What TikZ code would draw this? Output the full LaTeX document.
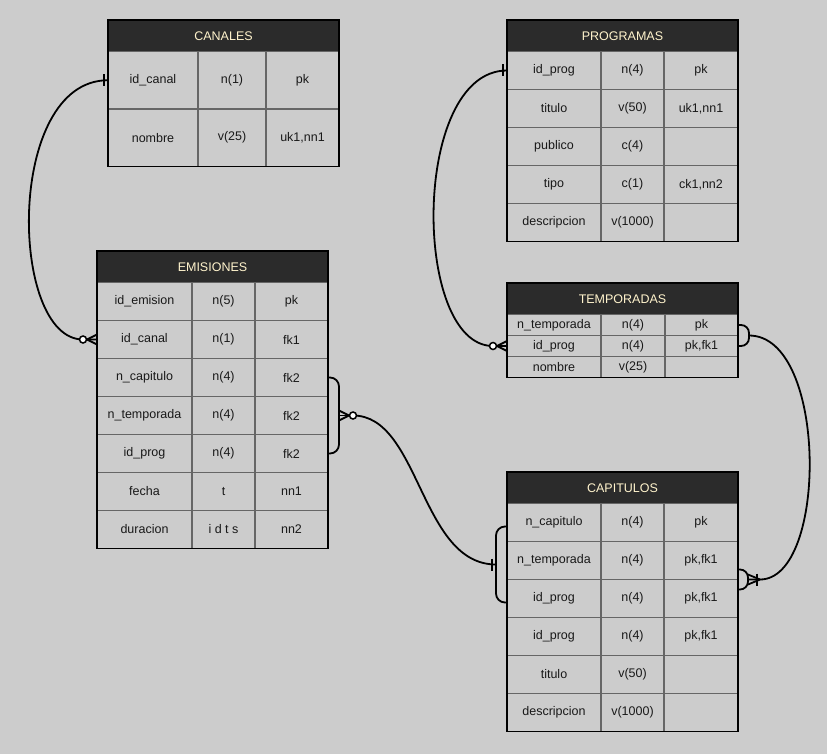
\documentclass[tikz,border=0pt]{standalone}
\usepackage{fontspec}
\setmainfont{Liberation Sans}
\usetikzlibrary{positioning}
\definecolor{bggray}{RGB}{204,204,204}
\definecolor{headgray}{RGB}{43,43,43}
\definecolor{headtext}{RGB}{255,243,204}
\tikzstyle{tabhead} = [rectangle, draw=black, line width=1.2pt, fill=headgray, text=headtext, anchor=north west, minimum width=231, minimum height=31.5, inner sep=0, outer sep=0, font=\fontsize{12.5}{15}\selectfont]
\tikzstyle{tabcell} = [rectangle, draw=black!60, line width=1.3pt, inner sep=0, outer sep=0, text=black!90, font=\fontsize{12.5}{15}\selectfont]
\tikzstyle{tabframe} = [draw=black, line width=1.3pt]
\tikzstyle{conn} = [black, line width=1.8pt]
\tikzstyle{hollow} = [black, line width=1.5pt, fill=white]

\begin{document}
\begin{tikzpicture}[x=1pt, y=-1pt]
   \useasboundingbox (0,0) rectangle (827,754);
   \fill[bggray] (0,0) rectangle (827,754);
   % Place nodes
   \node [tabhead] (canales) at (108,20) {CANALES};
   \foreach \n/\t/\k [count=\i] in {id\_canal/n(1)/pk, nombre/v(25)/{uk1,nn1}} {
     \node [tabcell, anchor=north west, minimum width=90, minimum height=57.5] (ca-\i-a) at ([yshift={(1-\i)*57.5}]canales.south west) {\n};
     \node [tabcell, right=0pt of ca-\i-a, minimum width=68, minimum height=57.5] (ca-\i-b) {\t};
     \node [tabcell, right=0pt of ca-\i-b, minimum width=73, minimum height=57.5] (ca-\i-c) {\k};
   }
   \draw[tabframe] (canales.north west) rectangle (ca-2-c.south east);

   \node [tabhead] (programas) at (507,20) {PROGRAMAS};
   \foreach \n/\t/\k [count=\i] in {id\_prog/n(4)/pk, titulo/v(50)/{uk1,nn1}, publico/c(4)/{}, tipo/c(1)/{ck1,nn2}, descripcion/v(1000)/{}} {
     \node [tabcell, anchor=north west, minimum width=94, minimum height=38] (pr-\i-a) at ([yshift={(1-\i)*38}]programas.south west) {\n};
     \node [tabcell, right=0pt of pr-\i-a, minimum width=63, minimum height=38] (pr-\i-b) {\t};
     \node [tabcell, right=0pt of pr-\i-b, minimum width=74, minimum height=38] (pr-\i-c) {\k};
   }
   \draw[tabframe] (programas.north west) rectangle (pr-5-c.south east);

   \node [tabhead] (temporadas) at (507,283) {TEMPORADAS};
   \foreach \n/\t/\k [count=\i] in {n\_temporada/n(4)/pk, id\_prog/n(4)/{pk,fk1}, nombre/v(25)/{}} {
     \node [tabcell, anchor=north west, minimum width=94, minimum height=21] (te-\i-a) at ([yshift={(1-\i)*21}]temporadas.south west) {\n};
     \node [tabcell, right=0pt of te-\i-a, minimum width=64, minimum height=21] (te-\i-b) {\t};
     \node [tabcell, right=0pt of te-\i-b, minimum width=73, minimum height=21] (te-\i-c) {\k};
   }
   \draw[tabframe] (temporadas.north west) rectangle (te-3-c.south east);

   \node [tabhead] (emisiones) at (97,251) {EMISIONES};
   \foreach \n/\t/\k [count=\i] in {id\_emision/n(5)/pk, id\_canal/n(1)/fk1, n\_capitulo/n(4)/fk2, n\_temporada/n(4)/fk2, id\_prog/n(4)/fk2, fecha/t/nn1, duracion/i d t s/nn2} {
     \node [tabcell, anchor=north west, minimum width=95, minimum height=38] (em-\i-a) at ([yshift={(1-\i)*38}]emisiones.south west) {\n};
     \node [tabcell, right=0pt of em-\i-a, minimum width=63, minimum height=38] (em-\i-b) {\t};
     \node [tabcell, right=0pt of em-\i-b, minimum width=73, minimum height=38] (em-\i-c) {\k};
   }
   \draw[tabframe] (emisiones.north west) rectangle (em-7-c.south east);

   \node [tabhead] (capitulos) at (507,472) {CAPITULOS};
   \foreach \n/\t/\k [count=\i] in {n\_capitulo/n(4)/pk, n\_temporada/n(4)/{pk,fk1}, id\_prog/n(4)/{pk,fk1}, id\_prog/n(4)/{pk,fk1}, titulo/v(50)/{}, descripcion/v(1000)/{}} {
     \node [tabcell, anchor=north west, minimum width=94, minimum height=38] (cp-\i-a) at ([yshift={(1-\i)*38}]capitulos.south west) {\n};
     \node [tabcell, right=0pt of cp-\i-a, minimum width=63, minimum height=38] (cp-\i-b) {\t};
     \node [tabcell, right=0pt of cp-\i-b, minimum width=74, minimum height=38] (cp-\i-c) {\k};
   }
   \draw[tabframe] (capitulos.north west) rectangle (cp-6-c.south east);

   % canales -- emisiones
   \draw[conn] (ca-1-a.west) .. controls +(-103,0) and +(-74,0) .. ([xshift=-14]em-2-a.west) -- (em-2-a.west);
   \draw[conn] ([xshift=-4]ca-1-a.west) ++(0,-6) -- ++(0,12);
   \draw[conn] ([xshift=-10]em-2-a.west) -- ++(10,-5) ([xshift=-10]em-2-a.west) -- ++(10,5);
   \draw[hollow] ([xshift=-14]em-2-a.west) circle (3.5);

   % programas -- temporadas
   \draw[conn] (pr-1-a.west) .. controls +(-96,0) and +(-81,0) .. ([xshift=-14]te-2-a.west) -- (te-2-a.west);
   \draw[conn] ([xshift=-4]pr-1-a.west) ++(0,-6) -- ++(0,12);
   \draw[conn] ([xshift=-10]te-2-a.west) -- ++(10,-5) ([xshift=-10]te-2-a.west) -- ++(10,5);
   \draw[hollow] ([xshift=-14]te-2-a.west) circle (3.5);

   % emisiones -- capitulos
   \draw[conn, rounded corners=9] (em-3-c.east) -- ++(11,0) -- ++(0,76) -- ++(-11,0);
   \draw[conn, rounded corners=9] ([yshift=-4]cp-1-a.west) -- ++(-11,0) -- ++(0,76) -- ++(11,0);
   \draw[conn] ([xshift=25]em-4-c.east) .. controls +(67,0) and +(-76,0) .. ([xshift=-11,yshift=-4]cp-2-a.west);
   \draw[conn] ([xshift=11]em-4-c.east) -- ++(14,0);
   \draw[conn] ([xshift=21]em-4-c.east) -- ++(-10,-5) ([xshift=21]em-4-c.east) -- ++(-10,5);
   \draw[hollow] ([xshift=25]em-4-c.east) circle (3.5);
   \draw[conn] ([xshift=-15,yshift=-4]cp-2-a.west) ++(0,-6) -- ++(0,12);

   % temporadas -- capitulos
   \draw[conn, rounded corners=8] (te-1-c.east) -- ++(11,0) -- ++(0,21) -- ++(-11,0);
   \draw[conn, rounded corners=8] ([yshift=10]cp-2-c.south east) -- ++(10,0) -- ++(0,20) -- ++(-10,0);
   \draw[conn] ([xshift=11]te-1-c.south east) .. controls +(79,0) and +(68,0) .. ([xshift=22]cp-2-c.south east) -- ([xshift=10]cp-2-c.south east);
   \draw[conn] ([xshift=22]cp-2-c.south east) -- ++(-12,-5) ([xshift=22]cp-2-c.south east) -- ++(-12,5);
   \draw[conn] ([xshift=19]cp-2-c.south east) ++(0,-6) -- ++(0,12);
\end{tikzpicture}
\end{document}
